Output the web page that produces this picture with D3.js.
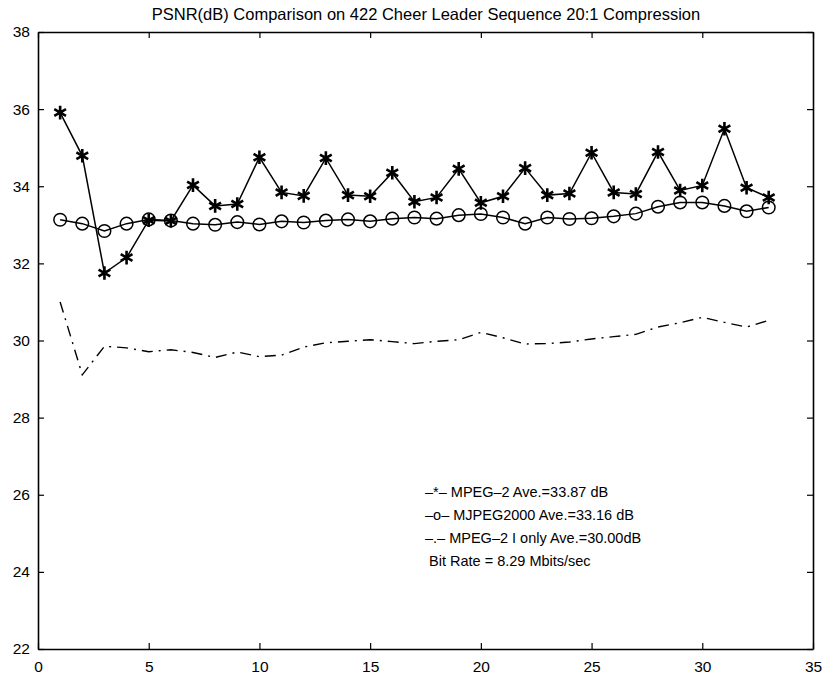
<!DOCTYPE html>
<html>
<head>
<meta charset="utf-8">
<script src="https://cdn.jsdelivr.net/npm/d3@7"></script>
<style>
  body { margin: 0; background: #fff; }
  svg text { font-family: "Liberation Sans", Arial, Helvetica, sans-serif; fill: #000; }
</style>
</head>
<body>
<div id="chart"></div>
<script>
// frame numbers
const frames = d3.range(1, 34);

// PSNR values (dB)
const mpeg2 = [35.91, 34.79, 31.75, 32.15, 33.12, 33.10, 34.03, 33.49, 33.54, 34.75,
               33.84, 33.75, 34.73, 33.77, 33.74, 34.35, 33.60, 33.71, 34.45, 33.57,
               33.74, 34.47, 33.77, 33.81, 34.87, 33.84, 33.80, 34.89, 33.89, 34.02,
               35.49, 33.96, 33.71];
const mjpeg2000 = [33.13, 33.03, 32.84, 33.03, 33.14, 33.11, 33.03, 33.00, 33.07, 33.01,
                   33.09, 33.06, 33.11, 33.14, 33.09, 33.16, 33.19, 33.16, 33.25, 33.28,
                   33.19, 33.03, 33.19, 33.15, 33.17, 33.22, 33.29, 33.47, 33.58, 33.58,
                   33.49, 33.35, 33.45];
const mpeg2IOnly = [31.00, 29.11, 29.85, 29.81, 29.71, 29.76, 29.69, 29.56, 29.70, 29.58,
                    29.62, 29.83, 29.94, 29.98, 30.02, 29.97, 29.92, 29.98, 30.02, 30.21,
                    30.07, 29.91, 29.92, 29.96, 30.04, 30.10, 30.16, 30.35, 30.46, 30.60,
                    30.47, 30.35, 30.52];

const xTicks = [0, 5, 10, 15, 20, 25, 30, 35];
const yTicks = [22, 24, 26, 28, 30, 32, 34, 36, 38];

const title = "PSNR(dB) Comparison on 422 Cheer Leader Sequence 20:1 Compression";
const legendLines = [
  "–*– MPEG–2 Ave.=33.87 dB",
  "–o– MJPEG2000 Ave.=33.16 dB",
  "–.– MPEG–2 I only Ave.=30.00dB",
  " Bit Rate = 8.29 Mbits/sec"
];

const W = 825, H = 689;
const mLeft = 38, mRight = 813, mTop = 32, mBottom = 649;

let svg = d3.select("#chart").append("svg")
    .attr("width", W)
    .attr("height", H);

let x = d3.scaleLinear().domain([0, 35]).range([mLeft, mRight]);
let y = d3.scaleLinear().domain([22, 38]).range([mBottom, mTop]);

// title
svg.append("text")
   .attr("x", 426)
   .attr("y", 20)
   .attr("text-anchor", "middle")
   .attr("font-size", 16.5)
   .text(title);

// axes: ticks inside, on all four sides (box)
const tickLen = 6;
let axB = svg.append("g").attr("transform", `translate(0,${mBottom})`)
   .call(d3.axisBottom(x).tickValues(xTicks).tickSizeInner(-tickLen).tickSizeOuter(0).tickPadding(10));
let axT = svg.append("g").attr("transform", `translate(0,${mTop})`)
   .call(d3.axisTop(x).tickValues(xTicks).tickSizeInner(-tickLen).tickSizeOuter(0).tickFormat(""));
let axL = svg.append("g").attr("transform", `translate(${mLeft},0)`)
   .call(d3.axisLeft(y).tickValues(yTicks).tickSizeInner(-tickLen).tickSizeOuter(0).tickPadding(8));
let axR = svg.append("g").attr("transform", `translate(${mRight},0)`)
   .call(d3.axisRight(y).tickValues(yTicks).tickSizeInner(-tickLen).tickSizeOuter(0).tickFormat(""));

for (let ax of [axB, axT, axL, axR]) {
    ax.select(".domain").attr("stroke", "#000").attr("stroke-width", 1.6);
    ax.selectAll(".tick line").attr("stroke", "#000").attr("stroke-width", 1.2);
    ax.selectAll(".tick text").attr("font-size", 15.5).attr("font-family", null);
}
axB.selectAll(".tick text").attr("dy", "0.85em");

// series
let line = (vals) => d3.line()
    .x((d, i) => x(frames[i]))
    .y(d => y(d))(vals);

let plot = svg.append("g");

plot.append("path")
    .attr("d", line(mpeg2IOnly))
    .attr("fill", "none")
    .attr("stroke", "#000")
    .attr("stroke-width", 1.4)
    .attr("stroke-dasharray", "11,6,2,6");

plot.append("path")
    .attr("d", line(mjpeg2000))
    .attr("fill", "none")
    .attr("stroke", "#000")
    .attr("stroke-width", 1.5);

plot.append("path")
    .attr("d", line(mpeg2))
    .attr("fill", "none")
    .attr("stroke", "#000")
    .attr("stroke-width", 1.5);

plot.selectAll("circle.mj")
    .data(mjpeg2000)
    .join("circle")
    .attr("class", "mj")
    .attr("cx", (d, i) => x(frames[i]))
    .attr("cy", d => y(d))
    .attr("r", 6.3)
    .attr("fill", "none")
    .attr("stroke", "#000")
    .attr("stroke-width", 1.5);

let star = d3.symbol().type(d3.symbolAsterisk).size(130);
plot.selectAll("path.star")
    .data(mpeg2)
    .join("path")
    .attr("class", "star")
    .attr("d", star)
    .attr("transform", (d, i) => `translate(${x(frames[i])},${y(d)})`)
    .attr("fill", "none")
    .attr("stroke", "#000")
    .attr("stroke-width", 2.6);

// legend text block
let leg = svg.append("g").attr("transform", "translate(425,497)");
leg.selectAll("text")
   .data(legendLines)
   .join("text")
   .attr("x", 0)
   .attr("y", (d, i) => i * 23)
   .attr("font-size", 14.5)
   .attr("xml:space", "preserve")
   .style("white-space", "pre")
   .text(d => d);
</script>
</body>
</html>
